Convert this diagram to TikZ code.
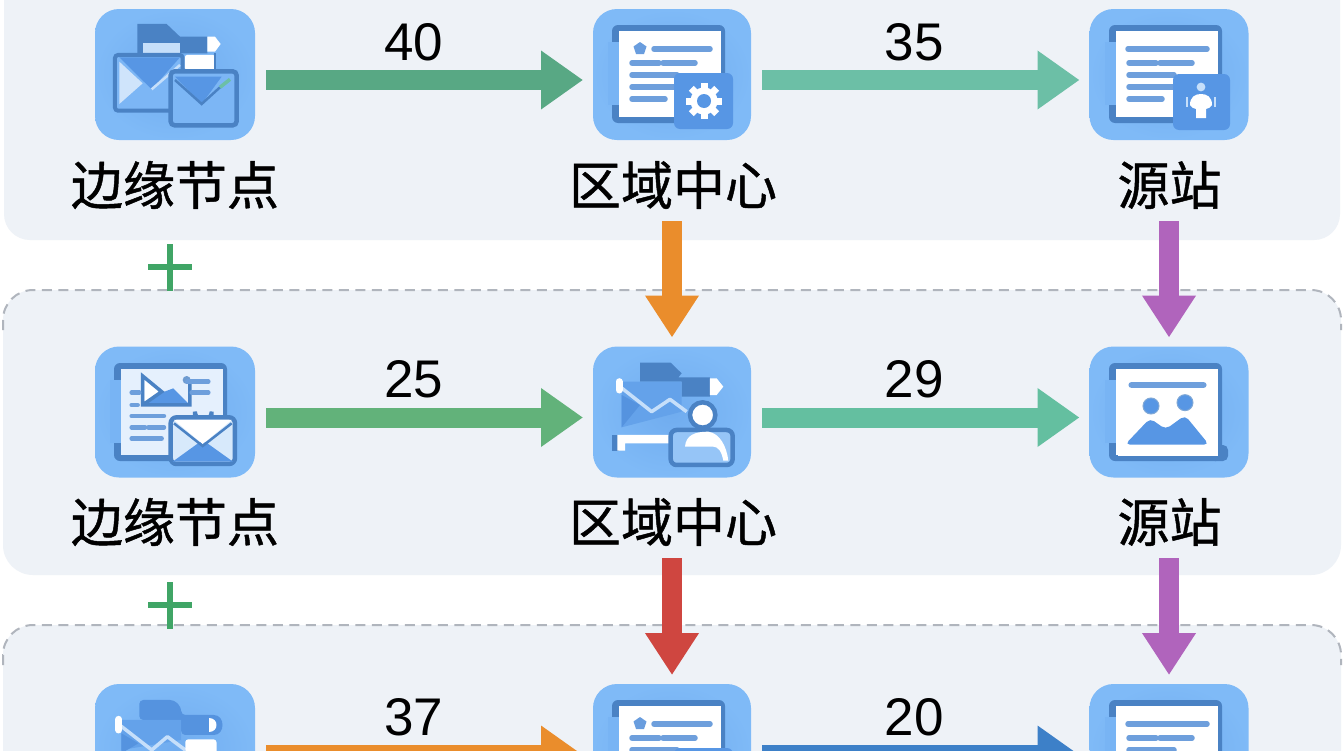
\documentclass[tikz,border=0pt]{standalone}
\usepackage{fontspec}
\setmainfont{Liberation Sans}
\newfontfamily\cjk[FakeBold=0.9]{Noto Sans CJK SC}
\usetikzlibrary{arrows.meta,calc}
\definecolor{panelc}{HTML}{EEF2F7}
\definecolor{dashc}{HTML}{B0B5BD}
\definecolor{tilec}{HTML}{78B4F4}
\definecolor{tilei}{HTML}{70ACEF}
\definecolor{tileo}{HTML}{7FBAF7}
\definecolor{dk}{HTML}{4A82C4}
\definecolor{md}{HTML}{5796E4}
\definecolor{lineb}{HTML}{6E9FDC}
\definecolor{lt}{HTML}{C6DFFA}
\definecolor{env}{HTML}{7CB6F5}
\definecolor{gA}{HTML}{58A884}
\definecolor{gB}{HTML}{6CBFA6}
\definecolor{gC}{HTML}{62B27A}
\definecolor{gD}{HTML}{64BFA0}
\definecolor{orc}{HTML}{EA8D2C}
\definecolor{blc}{HTML}{3D80C8}
\definecolor{puc}{HTML}{B064BC}
\definecolor{rdc}{HTML}{CF4640}
\definecolor{plusc}{HTML}{40A566}
\tikzset{
  tile/.style={shade,inner color=tilei,outer color=tileo,rounded corners=24pt,minimum height=131pt,inner sep=0pt,outer sep=0pt},
  lab/.style={font=\cjk\fontsize{52}{52}\selectfont,inner sep=0pt,outer sep=0pt,minimum height=54pt,text=black},
  num/.style={font=\fontsize{53}{53}\selectfont,inner sep=0pt,text=black},
  hflow/.style={line width=20pt,-{Triangle[length=42pt,width=56pt]},shorten <=11pt,shorten >=10pt},
  vflow/.style={line width=20pt,-{Triangle[length=42pt,width=51pt]},shorten <=9pt,shorten >=9pt},
  txtl/.style={lineb,line width=5.5pt,line cap=round},
  dashb/.style={dashc,line width=2pt,dash pattern=on 10pt off 6.5pt},
  plusl/.style={plusc,line width=6.5pt}
}
% paper with its dark backing, in tile coordinates
\newcommand\paperbase{%
  \fill[dk,rounded corners=6pt] (19,16) rectangle (132,114);
  \fill[tilec] (15,33) rectangle (26,96);
  \fill[white] (26,22) rectangle (128,108);}
\newcommand\doclines[1]{%
  \draw[txtl] (#1,40) -- (117,40);
  \draw[txtl] (39,54) -- (66,54) (70,54) -- (102,54);
  \draw[txtl] (39,66) -- (84,66);
  \draw[txtl] (39,78) -- (84,78);
  \draw[txtl] (39,90) -- (72,90);}
\newcommand\gearbadge{%
  \fill[md,rounded corners=6pt] (81,64) rectangle (140,120);
  \foreach \a in {0,45,...,315}{\draw[white,line width=7pt] (111,92) -- ++(\a:18);}
  \fill[white] (111,92) circle (13.5);
  \fill[md] (111,92) circle (7);}
\newcommand\personbadge{%
  \fill[md,rounded corners=6pt] (83,65) rectangle (140,121);
  \fill[lt] (111,78) circle (4.4);
  \fill[white] (100,96) .. controls (100,88) and (105,85) .. (111,85) .. controls (117,85) and (122,88) .. (122,96) .. controls (121,99) and (118,99) .. (116,100) -- (116,109) -- (106,109) -- (106,100) .. controls (104,99) and (101,99) .. (100,96) -- cycle;
  \draw[lt,line width=1.6pt] (97,88) -- (97,98) (125,88) -- (125,98);}
\newcommand\docpent[2]{%
  \begin{scope}[shift={(#1,#2)}]
    \paperbase
    \fill[lineb!80!md] (47,33) -- (53.5,37.5) -- (51,45) -- (43,45) -- (40.5,37.5) -- cycle;
    \doclines{61}
    \gearbadge
  \end{scope}}
\newcommand\docplain[2]{%
  \begin{scope}[shift={(#1,#2)}]
    \paperbase
    \doclines{38}
    \personbadge
  \end{scope}}
\begin{document}
\begin{tikzpicture}[x=1pt,y=-1pt]
\useasboundingbox (0,0) rectangle (1344,750);
\clip (0,0) rectangle (1344,750);
\fill[white] (0,0) rectangle (1344,750);
% panels
\fill[panelc,rounded corners=26pt] (4,-60) rectangle (1340,240);
\fill[panelc,rounded corners=30pt] (3,290) rectangle (1341,575);
\fill[panelc,rounded corners=30pt] (3,625) rectangle (1341,800);
\draw[dashb,rounded corners=30pt] (3,330) -- (3,290) -- (1341,290) -- (1341,330);
\draw[dashb,rounded corners=30pt] (3,665) -- (3,625) -- (1341,625) -- (1341,665);
% tiles
\node[tile,minimum width=160pt] (t11) at (175,74.5) {};
\node[tile,minimum width=158pt] (t12) at (672,74.5) {};
\node[tile,minimum width=159pt] (t13) at (1169,74.5) {};
\node[tile,minimum width=160pt] (t21) at (175,412) {};
\node[tile,minimum width=158pt] (t22) at (672,412) {};
\node[tile,minimum width=159pt] (t23) at (1169,412) {};
\node[tile,minimum width=160pt] (t31) at (175,749.5) {};
\node[tile,minimum width=158pt] (t32) at (672,749.5) {};
\node[tile,minimum width=159pt] (t33) at (1169,749.5) {};
% icon row 1, column 1
\begin{scope}[x=.3333pt,y=-.3333pt]
  \fill[dk] (412,72) -- (500,72) -- (540,110) -- (622,110) -- (622,160) -- (412,160) -- cycle;
  \fill[lt] (428,130) rectangle (540,158);
  \fill[white] (622,110) -- (645,110) -- (662,132) -- (645,155) -- (622,155) -- cycle;
  \draw[dk,line width=4pt,fill=env,rounded corners=3pt] (345,165) rectangle (548,332);
  \fill[lt!85!white] (358,185) -- (358,312) -- (428,250) -- cycle;
  \fill[md] (358,172) -- (540,172) -- (455,268) -- cycle;
  \draw[lt,line width=2.5pt] (455,268) -- (540,195);
  \fill[white,rounded corners=2pt] (555,165) rectangle (645,210);
  \draw[dk,line width=2.5pt] (645,160) -- (645,212);
  \draw[dk,line width=4.5pt,fill=env,rounded corners=4pt] (512,214) rectangle (710,376);
  \fill[md] (525,230) -- (665,230) -- (605,312) -- cycle;
  \draw[dk,line width=2.5pt] (525,240) -- (605,312) -- (660,262);
  \draw[gB,line width=3.5pt] (660,262) -- (690,238);
\end{scope}
\docpent{593}{9}
\docplain{1090}{9}
% icon row 2, column 1
\begin{scope}[shift={(95,347)}]\paperbase\end{scope}
\begin{scope}[shift={(80,340)},x=.3333pt,y=-.3333pt]
  \fill[env!20!white] (122,87) rectangle (428,345);
  \fill[white] (195,115) -- (245,155) -- (195,190) -- cycle;
  \fill[md] (195,190) -- (240,160) -- (280,145) -- (325,190) -- cycle;
  \draw[dk,line width=3.5pt] (330,122) -- (330,195) -- (188,195) -- (188,108) -- (245,155) -- (195,190);
  \fill[dk!80!white] (320,120) circle (12);
  \draw[txtl,line width=4.5pt] (322,125) -- (385,125) (335,158) -- (385,158) (155,158) -- (178,158) (155,195) -- (173,195) (155,228) -- (252,228) (155,262) -- (195,262) (205,262) -- (252,262) (155,296) -- (245,296);
  \draw[dk,line width=4pt,fill=md!80!white] (345,240) -- (345,215) arc (180:0:25) -- (395,240);
  \draw[dk,line width=4.5pt,fill=lt!70!white,rounded corners=6pt] (272,232) rectangle (465,372);
  \fill[md] (278,365) -- (368,300) -- (459,365) -- cycle;
  \fill[white] (282,240) -- (455,240) -- (368,312) -- cycle;
  \draw[dk,line width=2.5pt] (282,250) -- (368,318) -- (455,250);
\end{scope}
% icon row 2, column 2
\begin{scope}[shift={(580,340)},x=.3333pt,y=-.3333pt]
  \fill[dk] (180,68) -- (272,68) -- (305,100) -- (295,112) -- (390,112) -- (390,170) -- (305,170) -- (305,125) -- (180,125) -- cycle;
  \fill[white] (390,115) -- (410,115) -- (430,140) -- (410,165) -- (390,165) -- cycle;
  \fill[md!60!tilec] (125,125) -- (305,125) -- (305,215) -- (125,262) -- cycle;
  \fill[md!85!dk] (125,165) -- (180,195) -- (125,262) -- cycle;
  \draw[lt,line width=3.5pt,line join=round] (120,140) -- (215,215) -- (270,178) -- (320,215);
  \draw[white,line width=7pt,line cap=round] (117,125) -- (117,150);
  \fill[dk] (97,285) rectangle (118,332);
  \fill[white] (112,285) -- (280,285) -- (280,310) -- (135,310) -- (135,332) -- (112,332) -- cycle;
  \draw[dk,line width=4.5pt,fill=env!80!white,rounded corners=6pt] (272,270) rectangle (458,375);
  \fill[white] (315,320) .. controls (318,285) and (345,275) .. (385,275) .. controls (420,280) and (440,320) .. (445,362) -- (430,362) .. controls (425,335) and (415,320) .. (400,320) -- cycle;
  \draw[dk,line width=4.5pt,fill=white] (368,225) circle (38);
\end{scope}
% icon row 2, column 3
\begin{scope}[shift={(1090,347)}]
  \paperbase
  \fill[dk,rounded corners=5pt] (120,98) rectangle (138,114);
  \fill[white] (28,22) rectangle (128,109);
\end{scope}
\begin{scope}[shift={(1075,340)},x=.3333pt,y=-.3333pt]
  \draw[lineb,line width=6.5pt,line cap=round] (170,135) -- (385,135);
  \draw[dk!70!white,line width=1pt,fill=md] (228,198) circle (24);
  \draw[dk!70!white,line width=1pt,fill=md] (330,188) circle (24);
  \fill[md,rounded corners=5pt] (150,314) -- (225,235) -- (272,268) -- (330,226) -- (402,314) -- cycle;
\end{scope}
% icon row 3, column 1 (image coordinates: x scale 2.24, y scale 3 from the crop at (0,600))
\begin{scope}[shift={(0,600)},x=.4464pt,y=-.3333pt]
  \fill[md!85!dk,rounded corners=4pt] (312,300) -- (390,300) -- (406,322) -- (406,345) -- (470,345) .. controls (505,345) and (505,405) .. (470,405) -- (406,405) -- (406,360) -- (312,360) -- cycle;
  \fill[white] (468,355) .. controls (490,355) and (490,395) .. (468,395) -- cycle;
  \fill[md!60!tilec] (272,360) -- (406,360) -- (406,420) -- (272,450) -- cycle;
  \fill[md!85!dk] (272,400) -- (310,430) -- (272,460) -- cycle;
  \draw[lt,line width=3.5pt,line join=round] (268,375) -- (340,450) -- (375,410) -- (415,450);
  \draw[white,line width=7pt,line cap=round] (266,358) -- (266,390);
  \fill[white,rounded corners=3pt] (415,418) rectangle (485,470);
\end{scope}
\docpent{593}{684}
\begin{scope}[shift={(1090,684)}]
  \paperbase
  \doclines{38}
\end{scope}
% labels
\node[lab] (l11) at (175,185) {边缘节点};
\node[lab] (l12) at (673,185) {区域中心};
\node[lab] (l13) at (1169.5,185) {源站};
\node[lab] (l21) at (175,522) {边缘节点};
\node[lab] (l22) at (673,522) {区域中心};
\node[lab] (l23) at (1169.5,522) {源站};
% horizontal flows
\draw[hflow,gA] ([yshift=-5.5pt]t11.east) -- node[num,pos=.47,yshift=38pt] (n1) {40} ([yshift=-5.5pt]t12.west);
\draw[hflow,gB] ([yshift=-5.5pt]t12.east) -- node[num,pos=.482,yshift=38pt] (n2) {35} ([yshift=-5.5pt]t13.west);
\draw[hflow,gC] ([yshift=-5.5pt]t21.east) -- node[num,pos=.47,yshift=38pt] (n3) {25} ([yshift=-5.5pt]t22.west);
\draw[hflow,gD] ([yshift=-5.5pt]t22.east) -- node[num,pos=.482,yshift=38pt] (n4) {29} ([yshift=-5.5pt]t23.west);
\draw[hflow,orc] ([yshift=-5.5pt]t31.east) -- node[num,pos=.47,yshift=38pt] (n5) {37} ([yshift=-5.5pt]t32.west);
\draw[hflow,blc] ([yshift=-5.5pt]t32.east) -- node[num,pos=.482,yshift=38pt] (n6) {20} ([yshift=-5.5pt]t33.west);
% vertical flows
\draw[vflow,orc] (l12.south -| t12.north) -- (t22.north);
\draw[vflow,puc] (l13.south -| t13.north) -- (t23.north);
\draw[vflow,rdc] (l22.south -| t22.north) -- (t32.north);
\draw[vflow,puc] (l23.south -| t23.north) -- (t33.north);
% plus signs
\draw[plusl] (148,267) -- (192,267) (170,244) -- (170,291);
\draw[plusl] (148,605) -- (192,605) (170,582) -- (170,629);
\end{tikzpicture}
\end{document}
